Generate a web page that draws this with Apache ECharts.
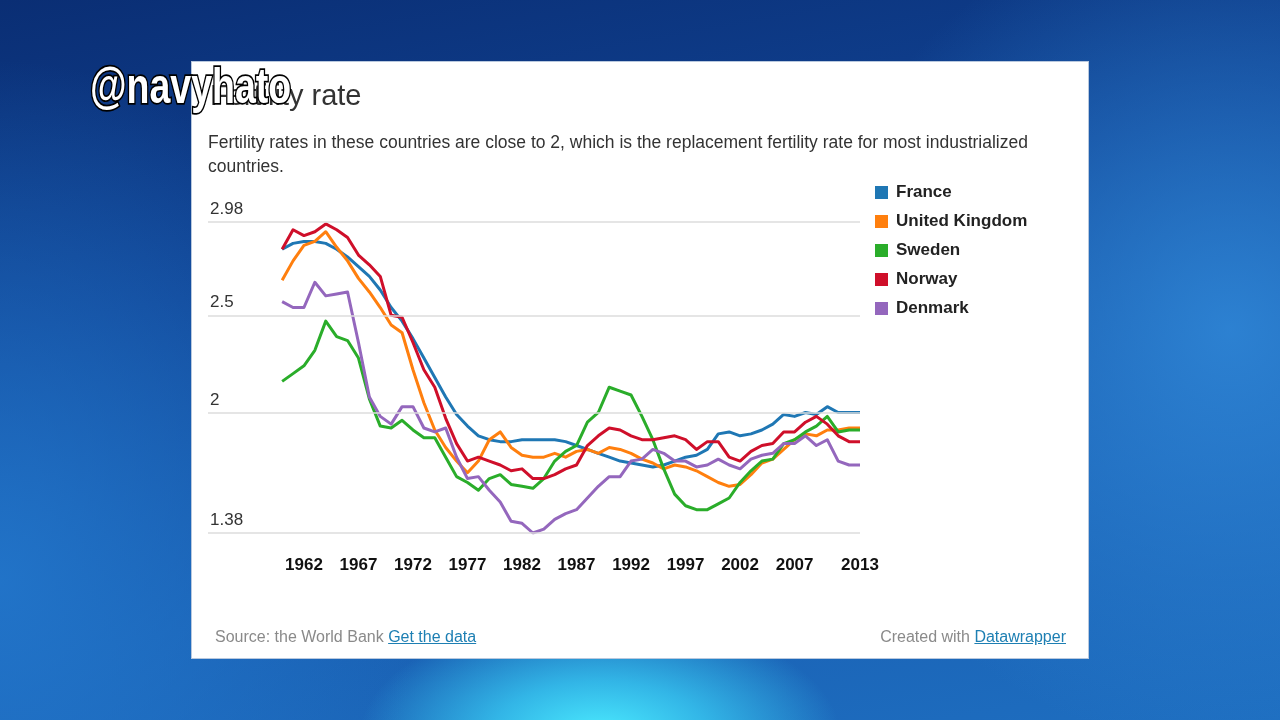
<!DOCTYPE html>
<html>
<head>
<meta charset="utf-8">
<script src="https://cdn.jsdelivr.net/npm/echarts@6/dist/echarts.min.js"></script>
<style>
  html, body { margin:0; padding:0; width:1280px; height:720px; overflow:hidden; }
  body {
    background:
      radial-gradient(ellipse 240px 120px at 600px 735px, rgba(75,235,255,1) 0%, rgba(60,215,250,0.7) 45%, rgba(40,180,240,0) 100%),
      radial-gradient(ellipse 420px 420px at 1230px 330px, rgba(50,140,220,0.8) 0%, rgba(50,140,220,0) 100%),
      radial-gradient(ellipse 420px 520px at 0px 580px, rgba(35,120,205,0.85) 0%, rgba(35,120,205,0) 100%),
      linear-gradient(170deg, #0a2e74 0%, #104394 35%, #195fb2 70%, #1e6ec0 100%);
    font-family: "Liberation Sans", Arial, sans-serif;
  }
  #card { position:absolute; left:191px; top:61px; width:896px; height:596px; background:#fff; border:1px solid #b8c8de; }
  #chart { position:absolute; left:0; top:0; width:1280px; height:720px; }
  .foot { position:absolute; top:628px; font-size:16px; color:#8a8a8a; white-space:nowrap; }
  .foot a { color:#1d7fb3; text-decoration:underline; }
</style>
</head>
<body>
<div id="card"></div>
<div id="chart"></div>
<div class="foot" style="left:215px;">Source: the World Bank <a>Get the data</a></div>
<div class="foot" style="right:214px;">Created with <a>Datawrapper</a></div>
<script>
const years = [1960,1961,1962,1963,1964,1965,1966,1967,1968,1969,
               1970,1971,1972,1973,1974,1975,1976,1977,1978,1979,
               1980,1981,1982,1983,1984,1985,1986,1987,1988,1989,
               1990,1991,1992,1993,1994,1995,1996,1997,1998,1999,
               2000,2001,2002,2003,2004,2005,2006,2007,2008,2009,
               2010,2011,2012,2013];

const france = [2.84,2.87,2.88,2.88,2.87,2.84,2.80,2.75,2.70,2.63,
                2.54,2.47,2.38,2.28,2.18,2.08,1.99,1.93,1.88,1.86,
                1.85,1.85,1.86,1.86,1.86,1.86,1.85,1.83,1.81,1.79,
                1.77,1.75,1.74,1.73,1.72,1.73,1.75,1.77,1.78,1.81,
                1.89,1.90,1.88,1.89,1.91,1.94,1.99,1.98,2.00,1.99,
                2.03,2.00,2.00,2.00];
const unitedKingdom = [2.68,2.78,2.86,2.88,2.93,2.85,2.78,2.69,2.62,2.54,
                2.45,2.41,2.22,2.05,1.91,1.82,1.75,1.69,1.75,1.86,
                1.90,1.82,1.78,1.77,1.77,1.79,1.77,1.80,1.81,1.79,
                1.82,1.81,1.79,1.76,1.74,1.71,1.73,1.72,1.70,1.67,
                1.64,1.62,1.63,1.68,1.74,1.76,1.81,1.86,1.89,1.88,
                1.91,1.91,1.92,1.92];
const sweden = [2.16,2.20,2.24,2.32,2.47,2.39,2.37,2.28,2.07,1.93,
                1.92,1.96,1.91,1.87,1.87,1.77,1.67,1.64,1.60,1.66,
                1.68,1.63,1.62,1.61,1.66,1.75,1.80,1.83,1.95,2.00,
                2.13,2.11,2.09,1.98,1.86,1.71,1.58,1.52,1.50,1.50,
                1.53,1.56,1.64,1.70,1.75,1.76,1.84,1.86,1.90,1.93,
                1.98,1.90,1.91,1.91];
const norway = [2.84,2.94,2.91,2.93,2.97,2.94,2.90,2.81,2.76,2.70,
                2.50,2.49,2.36,2.22,2.13,1.97,1.84,1.75,1.77,1.75,
                1.73,1.70,1.71,1.66,1.66,1.68,1.71,1.73,1.83,1.88,
                1.92,1.91,1.88,1.86,1.86,1.87,1.88,1.86,1.81,1.85,
                1.85,1.77,1.75,1.80,1.83,1.84,1.90,1.90,1.95,1.98,
                1.94,1.88,1.85,1.85];
const denmark = [2.57,2.54,2.54,2.67,2.60,2.61,2.62,2.36,2.08,1.98,
                1.94,2.03,2.03,1.92,1.90,1.92,1.77,1.66,1.67,1.60,
                1.54,1.44,1.43,1.38,1.40,1.45,1.48,1.50,1.56,1.62,
                1.67,1.67,1.75,1.76,1.81,1.79,1.75,1.75,1.72,1.73,
                1.76,1.73,1.71,1.76,1.78,1.79,1.84,1.84,1.88,1.83,
                1.86,1.75,1.73,1.73];

const countryNames = ['France','United Kingdom','Sweden','Norway','Denmark'];
const countryValues = [france, unitedKingdom, sweden, norway, denmark];
const colors = ['#1f77b4','#ff7f0e','#2aad2a','#cf0f2a','#9467bd'];

const yTicks = [2.98, 2.5, 2, 1.38];
const xTicks = [1962,1967,1972,1977,1982,1987,1992,1997,2002,2007,2013];

const titleText = 'Fertility rate';
const subtitleText = 'Fertility rates in these countries are close to 2, which is the replacement fertility rate for most industrialized\ncountries.';
const watermarkText = '@navyhato';

const FONT = '"Liberation Sans", Arial, sans-serif';
const chart = echarts.init(document.getElementById('chart'), null, {renderer:'canvas'});

const lineSeries = countryNames.map((name, i) => ({
  name: name,
  type: 'line',
  data: years.map((y, k) => [y, countryValues[i][k]]),
  showSymbol: false,
  symbol: 'none',
  lineStyle: { width: 3, color: colors[i], join: 'round' },
  itemStyle: { color: colors[i] },
  emphasis: { disabled: true },
  z: 3
}));

const gridSeries = {
  name: '__grid',
  type: 'line',
  data: [],
  silent: true,
  z: 1,
  markLine: {
    silent: true,
    symbol: ['none','none'],
    animation: false,
    lineStyle: { color: '#dcdcdc', width: 1.5, type: 'solid' },
    label: {
      show: true,
      position: 'insideStartTop',
      distance: [2, 4],
      color: '#333',
      fontSize: 17,
      fontFamily: FONT,
      formatter: p => String(p.value)
    },
    data: yTicks.map(v => ({ yAxis: v }))
  }
};

chart.setOption({
  animation: false,
  backgroundColor: 'transparent',
  textStyle: { fontFamily: FONT },
  grid: { left: 208, right: 420, top: 222, bottom: 187, containLabel: false },
  xAxis: {
    type: 'value',
    min: 1953.2,
    max: 2013,
    axisLine: { show: false },
    axisTick: { show: false },
    splitLine: { show: false },
    axisLabel: {
      customValues: xTicks,
      formatter: v => String(v),
      fontWeight: 'bold',
      fontSize: 17,
      color: '#111',
      margin: 24
    }
  },
  yAxis: {
    type: 'value',
    min: 1.38,
    max: 2.98,
    axisLine: { show: false },
    axisTick: { show: false },
    axisLabel: { show: false },
    splitLine: { show: false }
  },
  legend: {
    data: countryNames,
    orient: 'vertical',
    left: 870,
    top: 179,
    icon: 'rect',
    itemWidth: 13,
    itemHeight: 13,
    itemGap: 12,
    selectedMode: false,
    textStyle: { fontSize: 17, fontWeight: 'bold', color: '#222', lineHeight: 17, padding: [0,0,0,3] }
  },
  graphic: [
    { type: 'text', left: 210, top: 82, style: { text: titleText, fontSize: 29, fill: '#333', fontFamily: FONT } },
    { type: 'text', left: 208, top: 131, style: { text: subtitleText, fontSize: 17.5, lineHeight: 24, fill: '#333', fontFamily: FONT } },
    { type: 'text', x: 90, y: 89, scaleX: 0.75, z: 100,
      style: { text: watermarkText, fontSize: 50, fontWeight: 'bold', fill: '#fff', stroke: '#000', lineWidth: 3.5,
               verticalAlign: 'middle', align: 'left', fontFamily: FONT } }
  ],
  series: [gridSeries].concat(lineSeries)
});
</script>
</body>
</html>
